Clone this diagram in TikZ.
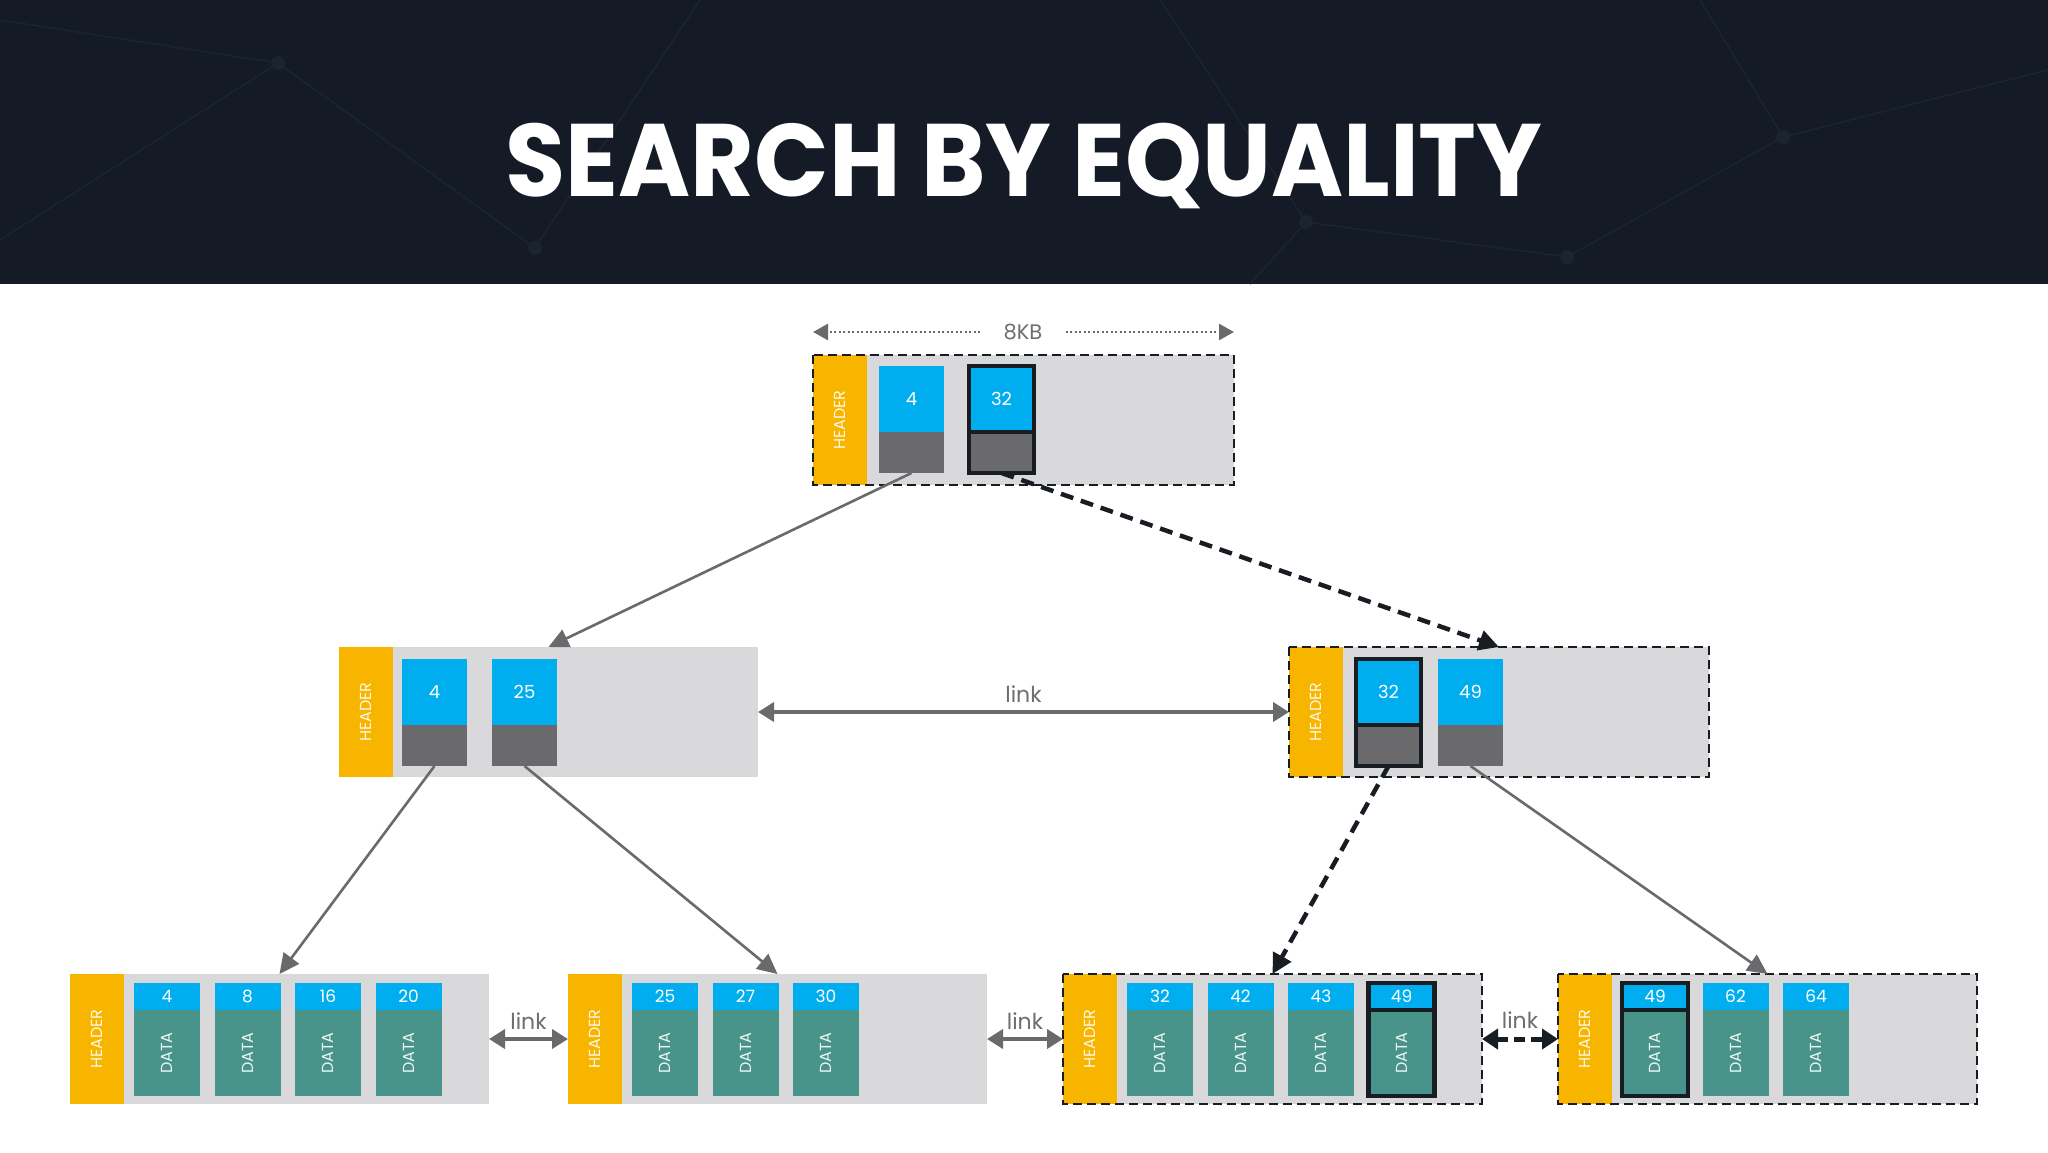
\documentclass[tikz,border=0pt]{standalone}
\usepackage{fontspec}
\setmainfont{Poppins}
\usepackage{tikz}
\usetikzlibrary{arrows.meta,positioning}

\definecolor{band}{HTML}{151B26}
\definecolor{bandline}{HTML}{1C2430}
\definecolor{hdr}{HTML}{F7B500}
\definecolor{keyblue}{HTML}{00AEEF}
\definecolor{ptrgray}{HTML}{6A6A6C}
\definecolor{datateal}{HTML}{48948A}
\definecolor{pagegray}{HTML}{D9D9DB}
\definecolor{ink}{HTML}{181D24}
\definecolor{lblgray}{HTML}{6E6E70}

\tikzset{
  box/.style={rectangle, inner sep=0pt, outer sep=0pt, anchor=north west},
  pagebox/.style={box, fill=pagegray, minimum width=420pt, minimum height=130pt},
  hdrcell/.style={box, fill=hdr, minimum width=54pt, minimum height=130pt, text=white!90!hdr, font=\fontsize{16}{16}\selectfont},
  keycell/.style={box, fill=keyblue, minimum width=65pt, minimum height=66pt, text=white, font=\fontsize{18}{18}\selectfont},
  ptrcell/.style={box, fill=ptrgray, minimum width=65pt, minimum height=41pt},
  leafcell/.style={box, fill=keyblue, minimum width=66pt, minimum height=27pt, text=white, font=\fontsize{17}{17}\selectfont},
  datacell/.style={box, fill=datateal, minimum width=66pt, minimum height=86pt, text=white!90!datateal, font=\fontsize{16}{16}\selectfont},
  hotpage/.style={draw=ink, line width=2.8pt, dash pattern=on 9pt off 5pt},
  hotkey/.style={draw=ink, line width=4.5pt},
  ptrarrow/.style={draw=ptrgray, line width=2.6pt, -{Triangle[length=20pt,width=19pt]}},
  hotarrow/.style={draw=ink, line width=4.5pt, dash pattern=on 13pt off 8pt, -{Triangle[length=20pt,width=20pt]}},
  linkarrow/.style={draw=ptrgray, line width=3.8pt, {Triangle[length=16pt,width=19pt]}-{Triangle[length=16pt,width=19pt]}},
  hotlink/.style={draw=ink, line width=5pt, dash pattern=on 11pt off 6pt, {Triangle[length=16pt,width=20pt]}-{Triangle[length=16pt,width=20pt]}},
  dimline/.style={draw=ptrgray, line width=2.5pt, dash pattern=on 2pt off 2.5pt, -{Triangle[length=15pt,width=16pt]}},
  lbl/.style={text=lblgray, font=\fontsize{22}{22}\selectfont, inner sep=2pt},
}

\begin{document}
\begin{tikzpicture}[x=1pt, y=-1pt]
\useasboundingbox (0,0) rectangle (2048,1152);
\fill[white] (0,0) rectangle (2048,1152);
\fill[band] (0,0) rectangle (2048,284);
\draw[bandline, line width=1.5pt] (0,240) -- (278,63) -- (535,248) -- (700,0);
\draw[bandline, line width=1.5pt] (278,63) -- (0,20);
\draw[bandline, line width=1.5pt] (1160,0) -- (1306,222) -- (1567,257) -- (1783,137) -- (2048,70);
\draw[bandline, line width=1.5pt] (1783,137) -- (1700,0);
\draw[bandline, line width=1.5pt] (1306,222) -- (1250,284);
\foreach \p in {(278,63),(535,248),(1306,222),(1567,257),(1783,137)}
  \fill[bandline] \p circle (7);
\node[text=white, anchor=base, font=\fontsize{103}{103}\selectfont\bfseries] (title) at (1024,196) {\scalebox{0.95}[1]{SEARCH BY EQUALITY}};

\node[pagebox, minimum width=421pt] (root) at (813,355) {};
\node[hdrcell] (rooth) at (root.north west) {\rotatebox{90}{HEADER}};
\node[keycell] (r1) at ([xshift=66pt,yshift=-11pt]root.north west) {4};
\node[ptrcell, below=0pt of r1] (r1p) {};
\node[keycell] (r2) at ([xshift=156pt,yshift=-11pt]root.north west) {32};
\node[ptrcell, below=0pt of r2] (r2p) {};
\draw[hotkey] (r2.north west) rectangle (r2p.south east);
\draw[hotkey] (r2.south west) -- (r2.south east);
\draw[hotpage] (root.north west) rectangle (root.south east);
\node[lbl, inner xsep=23pt, font=\fontsize{21}{21}\selectfont] (kb) at (1023,332) {8KB};
\draw[dimline] (kb.west) -- (kb.west -| root.west);
\draw[dimline] (kb.east) -- (kb.east -| root.east);

\node[pagebox, minimum width=419pt] (inl) at (339,647) {};
\node[hdrcell] (inlh) at (inl.north west) {\rotatebox{90}{HEADER}};
\node[keycell] (a1) at ([xshift=63pt,yshift=-12pt]inl.north west) {4};
\node[ptrcell, below=0pt of a1] (a1p) {};
\node[keycell] (a2) at ([xshift=153pt,yshift=-12pt]inl.north west) {25};
\node[ptrcell, below=0pt of a2] (a2p) {};

\node[pagebox] (inr) at (1289,647) {};
\node[hdrcell] (inrh) at (inr.north west) {\rotatebox{90}{HEADER}};
\node[keycell] (b1) at ([xshift=67pt,yshift=-12pt]inr.north west) {32};
\node[ptrcell, below=0pt of b1] (b1p) {};
\node[keycell] (b2) at ([xshift=149pt,yshift=-12pt]inr.north west) {49};
\node[ptrcell, below=0pt of b2] (b2p) {};
\draw[hotkey] (b1.north west) rectangle (b1p.south east);
\draw[hotkey] (b1.south west) -- (b1.south east);
\draw[hotpage] (inr.north west) rectangle (inr.south east);

\foreach \lf/\x/\keys in {lfa/70/{4,8,16,20}, lfb/568/{25,27,30}, lfc/1063/{32,42,43,49}, lfd/1558/{49,62,64}} {
  \node[pagebox, minimum width=419pt] (\lf) at (\x,974) {};
  \node[hdrcell] (\lf-h) at (\lf.north west) {\rotatebox{90}{HEADER}};
  \foreach \k [count=\i] in \keys {
    \node[leafcell] (\lf-k\i) at ([xshift={64pt+(\i-1)*80.5pt}, yshift=-9pt]\lf.north west) {\k};
    \node[datacell, below=0pt of \lf-k\i] (\lf-d\i) {\rotatebox{90}{DATA}};
  }
}
\draw[hotkey] (lfc-k4.north west) rectangle (lfc-d4.south east);
\draw[hotkey] (lfc-k4.south west) -- (lfc-k4.south east);
\draw[hotkey] (lfd-k1.north west) rectangle (lfd-d1.south east);
\draw[hotkey] (lfd-k1.south west) -- (lfd-k1.south east);
\draw[hotpage] (lfc.north west) rectangle (lfc.south east);
\draw[hotpage] (lfd.north west) rectangle (lfd.south east);

\draw[ptrarrow] (r1p.south) -- (inl.north);
\draw[hotarrow] (r2p.south) -- (inr.north);
\draw[ptrarrow] (a1p.south) -- (lfa.north);
\draw[ptrarrow] (a2p.south) -- (lfb.north);
\draw[hotarrow] (b1p.south) -- (lfc.north);
\draw[ptrarrow] (b2p.south) -- (lfd.north);

\draw[linkarrow] (inl.east) -- (inr.west) node[lbl, midway, above=6pt] {link};
\draw[linkarrow] (lfa.east) -- (lfb.west) node[lbl, midway, above=6pt] {link};
\draw[linkarrow] (lfb.east) -- (lfc.west) node[lbl, midway, above=6pt] {link};
\draw[hotlink] (lfc.east) -- (lfd.west) node[lbl, midway, above=6pt] {link};
\end{tikzpicture}
\end{document}
